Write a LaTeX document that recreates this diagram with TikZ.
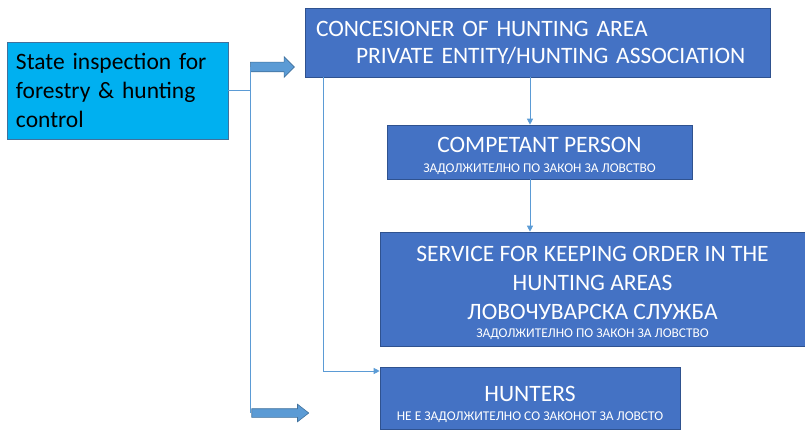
\documentclass[tikz,border=0pt]{standalone}
\usepackage{fontspec}
\setmainfont{Carlito}
\usetikzlibrary{positioning, arrows.meta, shapes.arrows}

\definecolor{boxblue}{HTML}{4472C4}
\definecolor{boxedge}{HTML}{2F528F}
\definecolor{inspcyan}{HTML}{00B0F0}
\definecolor{inspedge}{HTML}{41719C}
\definecolor{linkblue}{HTML}{5B9BD5}

\newcommand{\lawnote}[1]{{\fontsize{13.4}{16}\selectfont #1}}

\begin{document}
\begin{tikzpicture}[
    x=1pt, y=-1pt,
    >={Triangle[width=6pt,length=6pt]},
    unit/.style={rectangle, draw=boxedge, fill=boxblue, text=white, line width=0.6pt,
        inner sep=0pt, align=center, font=\fontsize{23.5}{29}\selectfont},
    inspect/.style={rectangle, draw=inspedge, fill=inspcyan, text=black, line width=0.6pt,
        inner xsep=9pt, inner ysep=0pt, align=left, font=\fontsize{23.5}{29}\selectfont},
    flow/.style={draw=linkblue, line width=0.9pt},
    fatarrow/.style={single arrow, draw=inspedge, fill=linkblue, line width=0.6pt,
        inner sep=0pt}
]
    \useasboundingbox (0,0) rectangle (805,430);

    % --- Inspection (left) ---
    \node[inspect, text width=203pt, minimum height=97pt] (state) at (117.5,90.5)
        {State inspection for\\forestry \& hunting\\control};

    % --- Boxes on the right ---
    \node[unit, align=left, inner xsep=11pt, text width=443pt, minimum height=69pt,
        font=\fontsize{23.5}{27}\selectfont] (conc) at (537.5,42.5)
        {CONCESIONER OF HUNTING AREA\\\hspace*{40pt}PRIVATE ENTITY/HUNTING ASSOCIATION};

    \node[unit, minimum width=305pt, minimum height=54pt, text height=43pt] (comp) at (539.5,152)
        {COMPETANT PERSON\\[-9pt]\lawnote{ЗАДОЛЖИТЕЛНО ПО ЗАКОН ЗА ЛОВСТВО}};

    \node[unit, minimum width=425pt, minimum height=114pt, text height=100pt] (service) at (592.5,289)
        {SERVICE FOR KEEPING ORDER IN THE\\HUNTING AREAS\\ЛОВОЧУВАРСКА СЛУЖБА\\[-11pt]
         \lawnote{ЗАДОЛЖИТЕЛНО ПО ЗАКОН ЗА ЛОВСТВО}};

    \node[unit, minimum width=300pt, minimum height=62pt, text height=47pt] (hunters) at (530,398)
        {HUNTERS\\[-10pt]\lawnote{НЕ Е ЗАДОЛЖИТЕЛНО СО ЗАКОНОТ ЗА ЛОВСТО}};

    % --- Block arrows ---
    \node[fatarrow, text height=4.5pt, text depth=4.5pt, minimum height=44pt,
        single arrow head extend=5.5pt, single arrow tip angle=90] (topArrow) at (270,67) {};
    \node[fatarrow, text height=4pt, text depth=4pt, minimum height=57pt,
        single arrow head extend=4.5pt, single arrow tip angle=76] (botArrow) at (277.5,413) {};

    % --- Connections ---
    \draw[flow] (state.east) -- (state.east -| topArrow.tail);
    \draw[flow] (topArrow.tail) -- (topArrow.tail |- botArrow.tail);

    \coordinate (spine) at (530,0);
    \draw[flow,->] (spine |- conc.south) -- (spine |- comp.north);
    \draw[flow,->] (spine |- comp.south) -- (spine |- service.north);

    \coordinate (elbow) at (323,371);
    \draw[flow,->] (elbow |- conc.south) -- (elbow) -- (elbow -| hunters.west);

\end{tikzpicture}
\end{document}
